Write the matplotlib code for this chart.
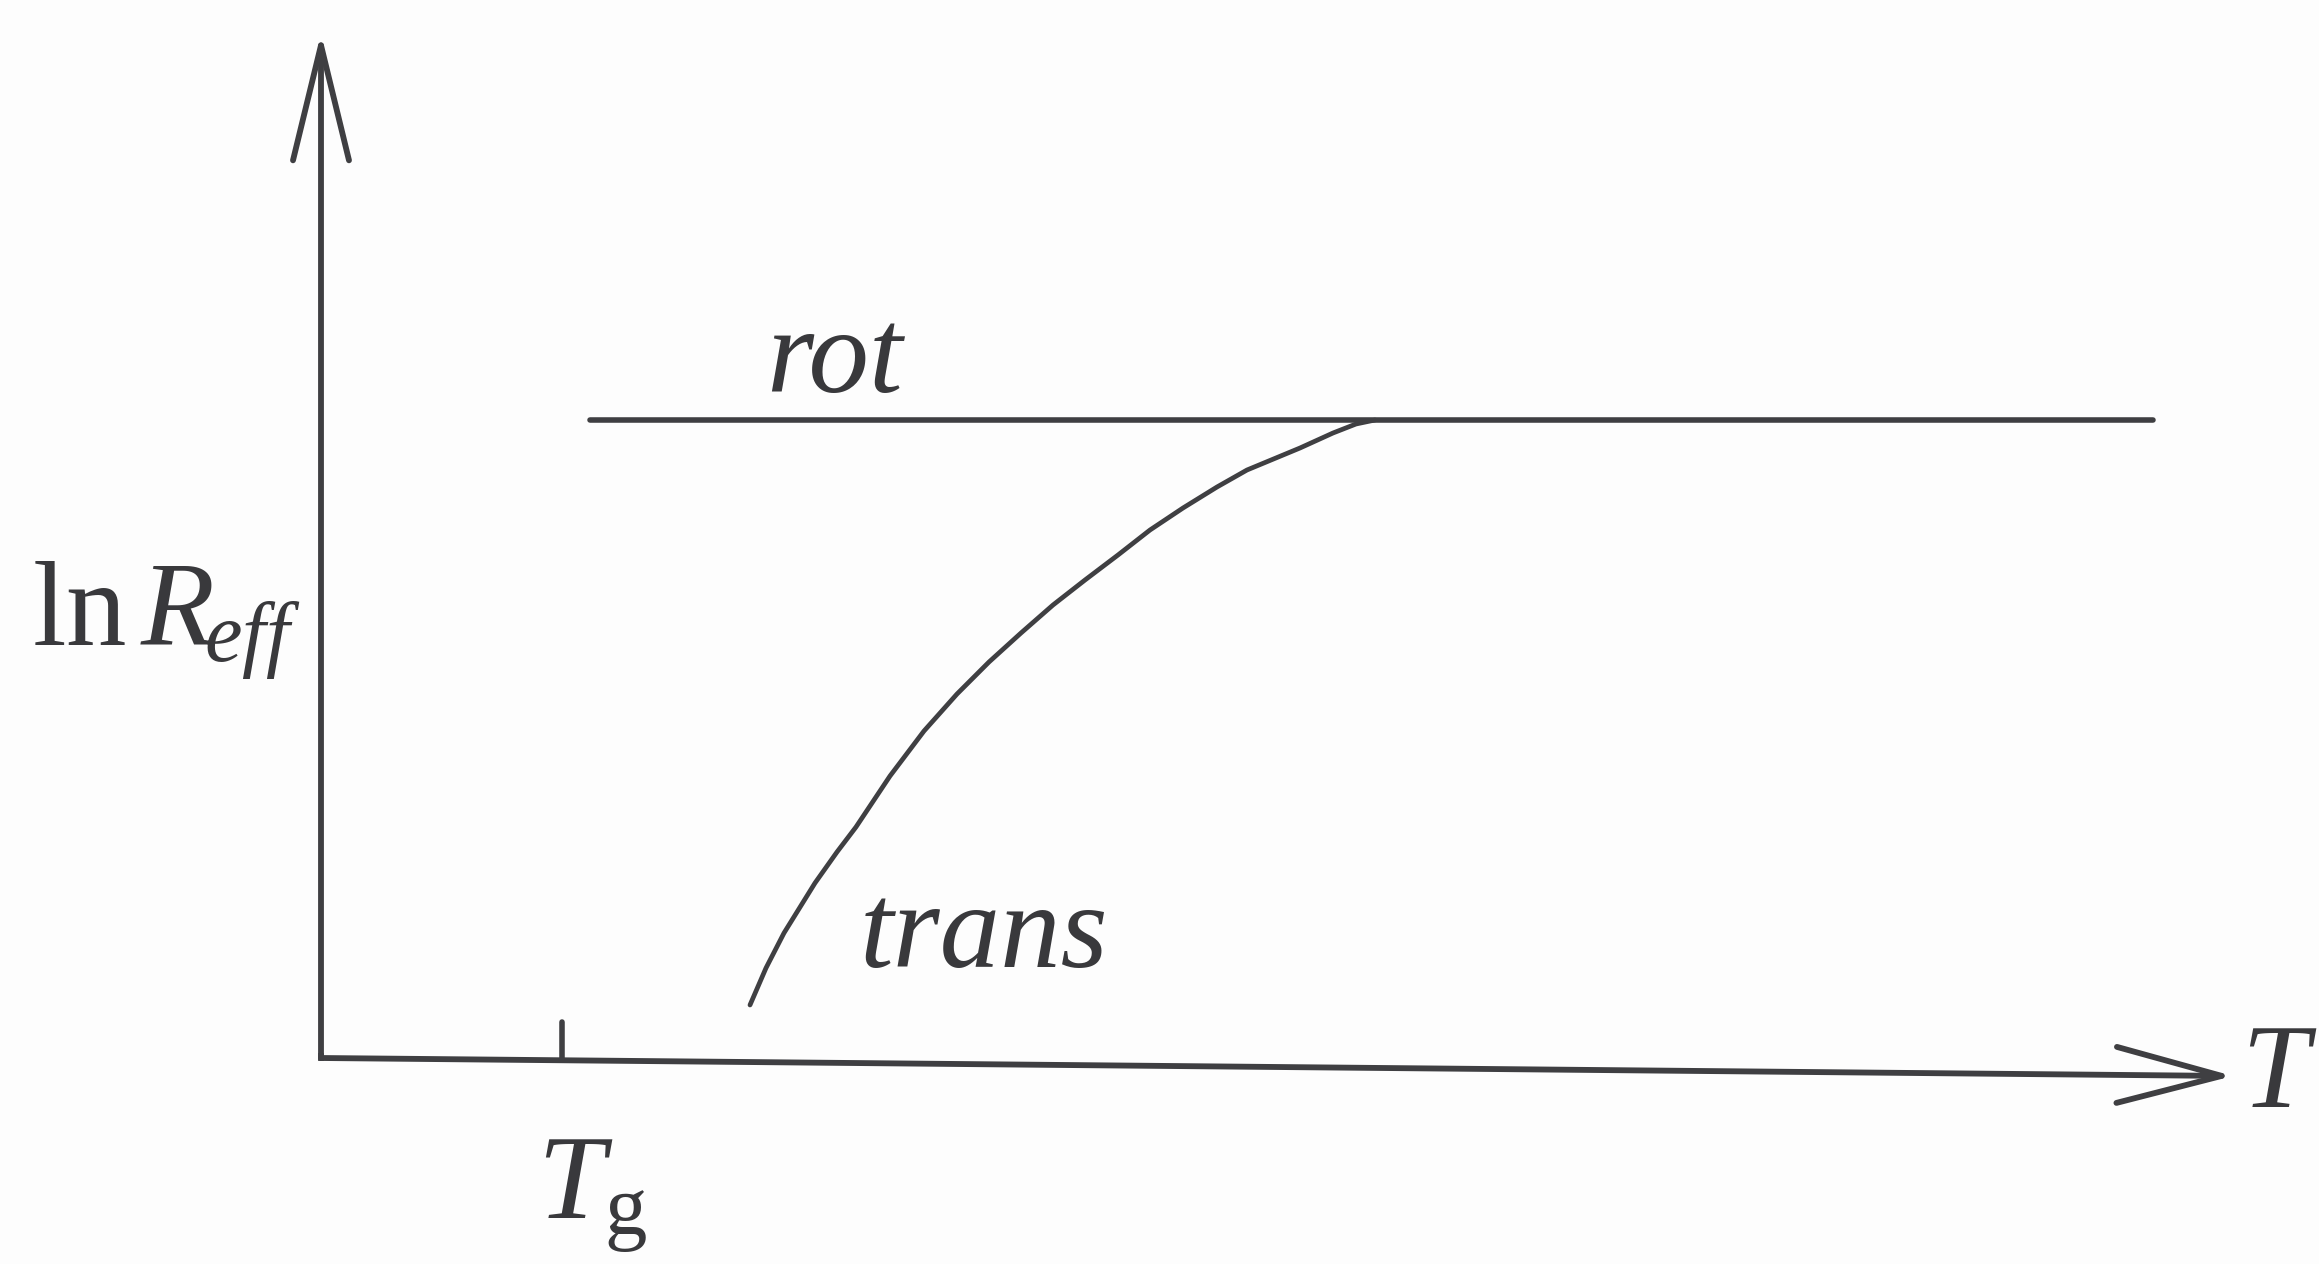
import matplotlib
matplotlib.use("Agg")
import matplotlib.pyplot as plt
from matplotlib.patches import FancyArrowPatch

# ── data (T in arbitrary units, ln R_eff in arbitrary units) ─────────
rot_T = [2.69, 18.32]
rot_lnR = [6.38, 6.38]

trans_T = [4.29, 4.45, 4.63, 4.94, 5.16, 5.35, 5.69, 6.03, 6.36, 6.68, 7.00,
           7.32, 7.64, 7.97, 8.29, 8.62, 8.96, 9.26, 9.79, 10.12, 10.35, 10.54]
trans_lnR = [0.53, 0.90, 1.25, 1.75, 2.06, 2.31, 2.82, 3.27, 3.64, 3.96, 4.25,
             4.53, 4.78, 5.03, 5.28, 5.50, 5.71, 5.88, 6.10, 6.25, 6.34, 6.38]

T_g = 2.41
T_axis_end = 19.12
T_axis_drop = -0.18      # the scanned baseline sags a little to the right
lnR_axis_end = 10.25

# ── style ─────────────────────────────────────────────────────────────
BG = "#fdfdfd"
INK = "#3f3f42"
TEXT = "#39393c"
FS = 87

plt.rcParams.update({
    "mathtext.fontset": "custom",
    "mathtext.rm": "Liberation Serif",
    "mathtext.it": "Liberation Serif:italic",
    "font.family": "Liberation Serif",
})

fig = plt.figure(figsize=(23.19, 12.64), dpi=100, facecolor=BG)
ax = fig.add_axes([0, 0, 1, 1])
ax.set_facecolor(BG)
ax.set_xlim(-3.21, 19.98)
ax.set_ylim(-2.06, 10.58)
ax.axis("off")

# axes with open arrow heads
arrow_kw = dict(mutation_scale=72, color=INK, lw=4.2,
                shrinkA=0, shrinkB=0, capstyle="round")
ax.add_patch(FancyArrowPatch((0, 0), (0, lnR_axis_end),
                             arrowstyle="->,head_length=1.15,head_width=0.28",
                             **arrow_kw))
ax.add_patch(FancyArrowPatch((0, 0), (T_axis_end, T_axis_drop),
                             arrowstyle="->,head_length=1.05,head_width=0.28",
                             **arrow_kw))
ax.plot([0, 0], [0, 0.02], color=INK, lw=4.2, solid_capstyle="projecting")

# T_g tick
ax.plot([T_g, T_g], [0, 0.36], color=INK, lw=4.0, solid_capstyle="round")

# rotational and translational curves
ax.plot(rot_T, rot_lnR, color=INK, lw=4.0, solid_capstyle="round")
ax.plot(trans_T, trans_lnR, color=INK, lw=3.4, solid_capstyle="round",
        solid_joinstyle="round")

# labels
ax.text(4.45, 6.66, "rot", fontsize=FS, style="italic", color=TEXT,
        ha="left", va="baseline")
ax.text(5.39, 0.91, "trans", fontsize=FS, style="italic", color=TEXT,
        ha="left", va="baseline")
ax.text(19.20, -0.49, r"$T$", fontsize=FS, color=TEXT,
        ha="left", va="baseline")
ax.text(2.16, -1.60, r"$T_{\mathrm{g}}$", fontsize=FS, color=TEXT,
        ha="left", va="baseline")
ax.text(-2.89, 4.13, r"$\mathrm{ln}\,R_{\!eff}$", fontsize=FS, color=TEXT,
        ha="left", va="baseline")

fig.savefig("out.png", dpi=100, facecolor=BG)
